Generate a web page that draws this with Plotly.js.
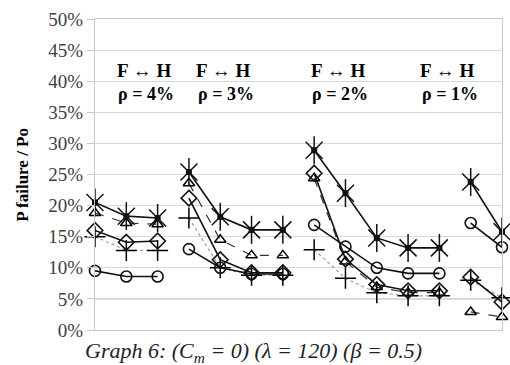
<!DOCTYPE html>
<html>
<head>
<meta charset="utf-8">
<script src="https://cdn.plot.ly/plotly-3.0.1.min.js"></script>
<style>html,body{margin:0;padding:0;background:#fff;}#chart{width:510px;height:365px;}</style>
</head>
<body>
<div id="chart"></div>
<script>
// 14 category positions (4 groups: rho = 4%, 3%, 2%, 1%)
const categories = [0,1,2,3,4,5,6,7,8,9,10,11,12,13];
const groups = [[0,2],[3,6],[7,11],[12,13]];
const groupLabels = ["ρ = 4%","ρ = 3%","ρ = 2%","ρ = 1%"];
const pairLabel = "F ↔ H";

// P failure / Po (%)
const starSeries     = [20.5, 18.3, 18.0, 25.4, 18.2, 16.1, 16.1, 28.9, 22.0, 14.8, 13.2, 13.2, 23.8, 15.8];
const triangleSeries = [18.8, 17.2, 17.0, 23.6, 14.5, 12.0, 12.0, 24.4, 11.0, 6.9, 6.0, 6.0, 2.9, 2.1];
const diamondSeries  = [16.0, 14.1, 14.3, 21.2, 11.3, 9.2, 9.2, 25.2, 11.4, 7.3, 6.3, 6.3, 8.5, 4.5];
const plusSeries     = [15.0, 12.8, 12.8, 18.0, 10.0, 8.8, 8.8, 12.9, 8.3, 6.0, 5.5, 5.5, 8.0, 5.2];
const circleSeries   = [9.5, 8.6, 8.6, 13.0, 10.0, 9.0, 9.0, 16.9, 13.4, 10.0, 9.1, 9.1, 17.2, 13.3];

const yTicks = [0,5,10,15,20,25,30,35,40,45,50];

const series = [
  {y: triangleSeries, line:{color:'#333', width:1.2, dash:'dash'}, markers:[{symbol:'triangle-up-open', size:10, color:'#000', lw:1.5}]},
  {y: plusSeries, line:{color:'#9a9a9a', width:1.2, dash:'dot'}, markers:[{symbol:'cross-thin-open', size:15, color:'#000', lw:1.5}]},
  {y: circleSeries, line:{color:'#111', width:1.6}, markers:[{symbol:'circle-open', size:11, color:'#111', lw:1.6}]},
  {y: diamondSeries, line:{color:'#111', width:1.6}, markers:[{symbol:'diamond-open', size:12, color:'#111', lw:1.6}]},
  {y: starSeries, line:{color:'#111', width:1.6}, markers:[
      {symbol:'x-thin-open', size:17, color:'#111', lw:1.5},
      {symbol:'line-ns-open', size:20, color:'#111', lw:1.5},
      {symbol:'square', size:6, color:'#111', lw:0}]}
];

const traces = [];
series.forEach(s => {
  groups.forEach(g => {
    const xs = categories.slice(g[0], g[1]+1);
    const ys = s.y.slice(g[0], g[1]+1);
    traces.push({x: xs, y: ys, type:'scatter', mode:'lines', line:s.line, cliponaxis:false, showlegend:false, hoverinfo:'skip'});
    s.markers.forEach(m => {
      traces.push({x: xs, y: ys, type:'scatter', mode:'markers', cliponaxis:false, showlegend:false,
        marker:{symbol:m.symbol, size:m.size, color:m.color, line:{color:m.color, width:m.lw}}});
    });
  });
});

const serif = '"Liberation Serif", "Times New Roman", serif';
const annX = [0.12, 0.315, 0.597, 0.866];
const annotations = [];
groupLabels.forEach((lab, i) => {
  annotations.push({text:'<b>'+pairLabel+'</b>', xref:'paper', yref:'paper', x:annX[i], y:0.836, showarrow:false, font:{family:serif, size:19, color:'#000'}, xanchor:'center', yanchor:'middle'});
  annotations.push({text:'<b>'+lab+'</b>', xref:'paper', yref:'paper', x:annX[i]+0.006, y:0.76, showarrow:false, font:{family:serif, size:18, color:'#000'}, xanchor:'center', yanchor:'middle'});
});
annotations.push({text:'<b>P failure / Po</b>', xref:'paper', yref:'paper', x:-0.179, y:0.5, textangle:-90, showarrow:false, font:{family:serif, size:17, color:'#000'}, xanchor:'center', yanchor:'middle'});
annotations.push({text:'<i>Graph 6: (C<sub>m</sub> = 0) (λ = 120) (β = 0.5)</i>', xref:'paper', yref:'paper', x:0.39, y:-0.07, showarrow:false, font:{family:serif, size:22, color:'#222'}, xanchor:'center', yanchor:'middle'});

const layout = {
  width:510, height:365,
  margin:{l:95, r:8, t:19, b:35},
  paper_bgcolor:'#fff', plot_bgcolor:'#fff',
  showlegend:false,
  xaxis:{range:[0,13], showticklabels:false, showgrid:false, zeroline:false, showline:true, linecolor:'#c8c8c8', linewidth:1.2, mirror:true, ticks:''},
  yaxis:{range:[0,50], tickvals:yTicks, ticktext:yTicks.map(v=>v+'%'), showgrid:true, gridcolor:'#d9d9d9', gridwidth:1.2, zeroline:false,
    showline:true, linecolor:'#c8c8c8', linewidth:1.2, mirror:true, ticks:'outside', ticklen:7, tickcolor:'#c8c8c8',
    tickfont:{family:serif, size:19, color:'#404040'}},
  annotations: annotations
};

Plotly.newPlot('chart', traces, layout, {staticPlot:true});
</script>
</body>
</html>
